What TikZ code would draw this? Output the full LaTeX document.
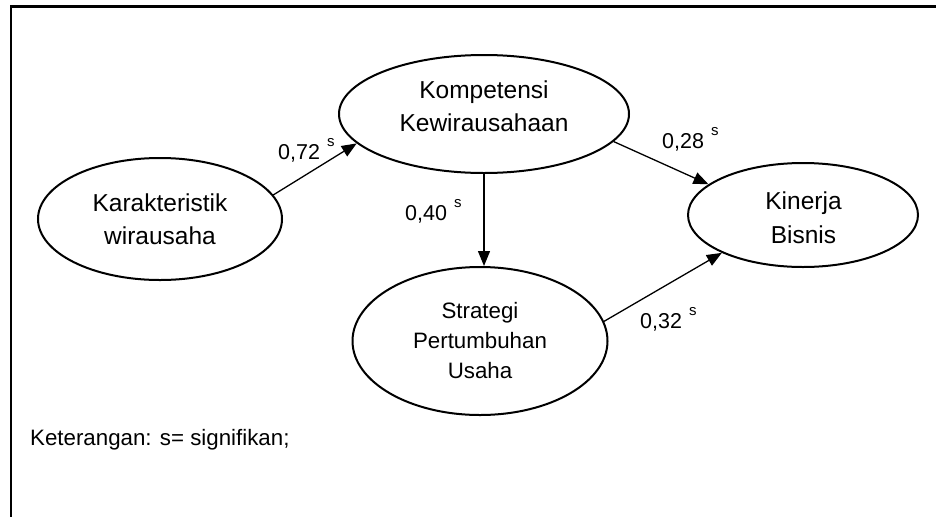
\documentclass[tikz,border=0pt]{standalone}
\usepackage{fontspec}
\setmainfont{Liberation Sans}
\usetikzlibrary{shapes.geometric,arrows.meta}
\begin{document}
\begin{tikzpicture}[x=1pt,y=1pt,
  construct/.style={draw, ellipse, line width=2pt, inner sep=0pt},
  nodetext/.style={align=center, inner sep=0pt, font=\fontsize{24.5}{33.5}\selectfont},
  effect/.style={line width=1.3pt, -{Triangle[length=15pt,width=12pt]}},
  coef/.style={anchor=base west, inner sep=0pt, font=\fontsize{21.5}{21.5}\selectfont},
  note/.style={anchor=base west, inner sep=0pt, font=\fontsize{22.3}{22.3}\selectfont},
]
\newcommand{\sig}{\hspace{7pt}\raisebox{12.5pt}{\fontsize{15}{15}\selectfont s}}
\useasboundingbox (0,0) rectangle (936,-517);
\fill[white] (0,0) rectangle (936,-517);

% open frame: top and left edges
\draw[line width=2.5pt] (936,-6.5) -- (11,-6.5) -- (11,-517);

% latent constructs
\node[construct, minimum width=244pt, minimum height=122pt] (kar) at (160,-219) {};
\node[construct, minimum width=290pt, minimum height=118pt] (kom) at (484,-114) {};
\node[construct, minimum width=230pt, minimum height=104pt] (kin) at (803,-215) {};
\node[construct, minimum width=255pt, minimum height=148pt] (str) at (480,-341) {};

\node[nodetext] (kar-t) at (160,-219) {Karakteristik\\wirausaha};
\node[nodetext] (kom-t) at (484,-106.3) {Kompetensi\\Kewirausahaan};
\node[nodetext] (kin-t) at (803.5,-217.8) {Kinerja\\Bisnis};
\node[nodetext, font=\fontsize{22.3}{30}\selectfont] (str-t) at (480,-340.1) {Strategi\\Pertumbuhan\\Usaha};

% paths
\draw[effect] (kar.12) -- (kom.193.5);
\draw[effect] (kom.south) -- (kom.south |- str.north);
\draw[effect] (kom.-12) -- (kin.162);
\draw[effect] (str.9) -- (kin.205);

% path coefficients
\node[coef] (c1) at (278,-159) {0,72\sig};
\node[coef] (c2) at (405,-220) {0,40\sig};
\node[coef] (c3) at (662,-148) {0,28\sig};
\node[coef] (c4) at (640,-328) {0,32\sig};

\node[note] (legend) at (30,-445) {Keterangan: s= signifikan;};
\end{tikzpicture}
\end{document}
